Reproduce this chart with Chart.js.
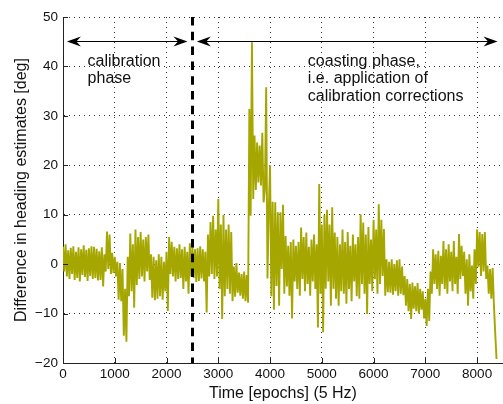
<!DOCTYPE html>
<html><head><meta charset="utf-8">
<script src="https://cdn.jsdelivr.net/npm/chart.js@4"></script>
<style>html,body{margin:0;padding:0;background:#fff}#wrap{width:503px;height:404px}</style>
</head><body><div id="wrap"><canvas id="c" width="503" height="404"></canvas></div>
<script>
// ---- data (epochs sampled every epochStep) ----
const epochStep = 25;
const calibrationPhase = [
  3.5, -1.5, 4.0, -2.5,   2.8, -3.0, 3.3, -2.0,   3.6, -3.2, 2.5, -2.8,   3.4, -3.5, 3.0, -2.2,
  3.8, -2.6, 2.9, -3.4,   3.2, -2.4, 3.6, -3.0,   3.5, -2.8, 3.1, -3.3,   2.6, -3.2, 3.4, -4.5,
  2.0, -1.5, 6.6, -1.0,   6.0, -2.0, 2.3, -1.8,   1.5, -2.5, 0.5, -7.2,   0.2, -7.5, -1.0, -14.5,
  -5.0, -15.7, 1.5, -6.5, 6.2, -5.5, 4.0, -8.8,   7.0, -4.2, 5.5, -3.0,   6.5, -2.5, 5.0, -3.5,
  5.5, -1.5, 6.0, -3.2,   2.0, -6.8, 1.5, -7.3,   0.8, -7.0, 2.0, -6.5,   1.5, -7.2, 0.5, -5.5,
  2.5, -9.5, 5.5, -2.0,   4.5, -2.5, 3.5, -3.5,   3.2, -3.0, 4.0, -2.8,   3.0, -5.0, 3.5, -3.5,
  2.5, -6.0, 4.2, -2.5
];
const coastingPhase = [
  3.5, -2.8, 3.0, -3.6,   3.2, -3.4, 3.6, -2.9,   3.0, -3.5, 2.5, -9.8,   6.0, -2.5, 8.5, -2.0,
  9.8, -3.0, 7.0, -2.5,   13.2, -5.0, 8.0, -11.1, 10.0, -6.5, 7.0, -5.0,  8.0, -6.0, 6.5, -7.5,
  -0.5, -6.6, 0.2, -5.8,  -1.7, -6.4, -2.0, -7.0, -1.5, -7.5, -2.2, -7.8, 31.4, 9.8, 44.9, 13.2,
  26.0, 15.0, 24.6, 16.5, 24.0, 15.9, 26.6, 12.5, 15.0, 35.8, -2.9, 11.0, 20.0, -6.5, 12.6, -9.2,
  12.5, -4.4, 10.5, -8.4, 10.5, -1.0, 12.0, -6.0, 5.7, -4.5, 3.7, -6.4,   4.5, -11.0, 5.0, -3.5,
  3.7, -5.0, 4.5, -6.4,   7.4, -3.0, 5.5, -5.5,   6.4, -4.0, 3.5, -6.4,   5.0, -3.5, 6.0, -5.0,
  4.0, -12.8, 16.2, -6.0, 8.0, -13.8, 10.0, -5.0, 11.0, -3.5, 8.0, -8.4,  11.5, -5.0, 6.4, -7.0,
  5.5, -8.4, 4.0, -5.5,   7.0, -6.0, 4.5, -8.0,   6.5, -5.0, 3.7, -7.5,   6.0, -3.5, 4.0, -6.5,
  5.5, -7.0, 10.1, -4.0,  8.4, -6.0, 6.0, -10.1,  7.5, -4.0, 5.0, -5.5,   9.0, -3.0, 7.0, -6.0,
  12.1, -4.0, 9.0, -2.4,  7.1, -6.4, 1.0, -5.7,   0.5, -5.8, 1.0, -6.2,   0.0, -5.5, 0.8, -6.4,
  1.0, -6.0, -0.5, -6.3,  -2.4, -8.4, -3.0, -9.5, -4.0, -11.1, -3.7, -9.0, -4.5, -9.5, -3.8, -10.0,
  -5.0, -9.2, -5.5, -11.0, -7.0, -12.5, -5.0, -11.5, -1.5, -6.0, 3.0, -4.0, 2.0, -5.0, 2.7, -6.4,
  1.7, -4.0, 4.7, -5.0,   3.0, -6.0, 4.0, -3.5,   2.5, -5.5, 4.7, -4.0,   1.5, -6.0, 6.1, -3.0,
  3.7, -2.4, 2.5, -6.0,   1.0, -8.4, 2.0, -5.5,   -0.3, -7.0, 3.0, -4.0,  7.0, -0.5, 6.5, -2.4,
  6.1, -1.5, 6.5, -3.0,   -0.3, -6.0, -1.0, -7.0, -0.8, -8.4, -14.0, -19.2
];
const xTicks = [0, 1000, 2000, 3000, 4000, 5000, 6000, 7000, 8000];
const yTicks = [-20, -10, 0, 10, 20, 30, 40, 50];
const xRange = [0, 8500];
const yRange = [-20, 50];
const phaseBoundary = 2500;
const arrowLevel = 45.2;
const calibArrow = [75, 2405];
const coastArrow = [2585, 8395];
const calibText = ['calibration', 'phase'];
const calibTextAt = [475, 40.1];
const coastText = ['coasting phase,', 'i.e. application of', 'calibration corrections'];
const coastTextAt = [4730, 40.1];

// ---- build points ----
const heading = calibrationPhase.concat(coastingPhase);
const points = heading.map((v, i) => ({x: i * epochStep, y: v}));

const FONT = "'Liberation Sans', Arial, Helvetica, sans-serif";

function arrowHead(ctx, tipX, tipY, dir) {
  const L = 14, W = 5, ind = 4.5;
  ctx.beginPath();
  ctx.moveTo(tipX, tipY);
  ctx.lineTo(tipX - dir * L, tipY - W);
  ctx.lineTo(tipX - dir * (L - ind), tipY);
  ctx.lineTo(tipX - dir * L, tipY + W);
  ctx.closePath();
  ctx.fill();
}

const overlay = {
  id: 'overlay',
  afterDatasetsDraw(chart) {
    const {ctx, chartArea: ca, scales: {x, y}} = chart;
    ctx.save();
    // inward tick marks
    ctx.strokeStyle = '#222'; ctx.lineWidth = 1;
    ctx.beginPath();
    yTicks.forEach(v => { const py = Math.round(y.getPixelForValue(v)) + 0.5; ctx.moveTo(ca.left, py); ctx.lineTo(ca.left + 5, py); });
    xTicks.forEach(v => { const px = Math.round(x.getPixelForValue(v)) + 0.5; ctx.moveTo(px, ca.bottom); ctx.lineTo(px, ca.bottom - 5); });
    ctx.stroke();
    // phase boundary
    const bx = Math.round(x.getPixelForValue(phaseBoundary)) + 0.5;
    ctx.strokeStyle = '#000'; ctx.lineWidth = 3; ctx.setLineDash([8.5, 6.3]);
    ctx.beginPath(); ctx.moveTo(bx, y.getPixelForValue(yRange[1])); ctx.lineTo(bx, y.getPixelForValue(yRange[0])); ctx.stroke();
    ctx.setLineDash([]);
    // arrows
    const ay = Math.round(y.getPixelForValue(arrowLevel)) + 0.5;
    ctx.fillStyle = '#000'; ctx.strokeStyle = '#000'; ctx.lineWidth = 1;
    [calibArrow, coastArrow].forEach(a => {
      const x1 = x.getPixelForValue(a[0]), x2 = x.getPixelForValue(a[1]);
      ctx.beginPath(); ctx.moveTo(x1 + 4, ay); ctx.lineTo(x2 - 4, ay); ctx.stroke();
      arrowHead(ctx, x1, ay, -1);
      arrowHead(ctx, x2, ay, 1);
    });
    // texts
    ctx.fillStyle = '#111'; ctx.font = '16px ' + FONT; ctx.textAlign = 'left'; ctx.textBaseline = 'alphabetic';
    const drawLines = (lines, at) => {
      const tx = x.getPixelForValue(at[0]), ty = y.getPixelForValue(at[1]);
      lines.forEach((s, i) => ctx.fillText(s, tx, ty + i * 17.4));
    };
    drawLines(calibText, calibTextAt);
    drawLines(coastText, coastTextAt);
    ctx.restore();
  }
};

new Chart(document.getElementById('c'), {
  type: 'line',
  data: { datasets: [{ data: points, borderColor: '#a6a600', borderWidth: 1.9, pointRadius: 0, tension: 0, fill: false, borderJoinStyle: 'bevel' }] },
  options: {
    responsive: false, animation: false, events: [],
    layout: { padding: { top: 17, left: 0, right: 0, bottom: 0 } },
    plugins: { legend: { display: false }, tooltip: { enabled: false } },
    scales: {
      x: {
        type: 'linear', min: xRange[0], max: xRange[1],
        afterBuildTicks: s => { s.ticks = xTicks.map(v => ({ value: v })); },
        afterFit: s => { s.height = 41; },
        grid: { color: 'rgba(0,0,0,0.8)', lineWidth: 1, drawTicks: false },
        border: { display: true, color: '#222', width: 1, dash: [1, 4] },
        ticks: { padding: 3, color: '#111', font: { family: FONT, size: 13.5 }, maxRotation: 0, autoSkip: false, callback: v => String(v) },
        title: { display: true, text: 'Time [epochs] (5 Hz)', color: '#111', font: { family: FONT, size: 16 }, padding: { top: 0, bottom: 1 } }
      },
      y: {
        min: yRange[0], max: yRange[1],
        afterBuildTicks: s => { s.ticks = yTicks.map(v => ({ value: v })); },
        afterFit: s => { s.width = 63; },
        grid: { color: 'rgba(0,0,0,0.8)', lineWidth: 1, drawTicks: false },
        border: { display: true, color: '#222', width: 1, dash: [1, 4] },
        ticks: { padding: 5, color: '#111', font: { family: FONT, size: 13.5 }, callback: v => String(v).replace('-', '\u2212') },
        title: { display: true, text: 'Difference in heading estimates [deg]', color: '#111', font: { family: FONT, size: 16 }, padding: { top: 12, bottom: 0 } }
      }
    }
  },
  plugins: [overlay]
});
</script>
</body></html>
